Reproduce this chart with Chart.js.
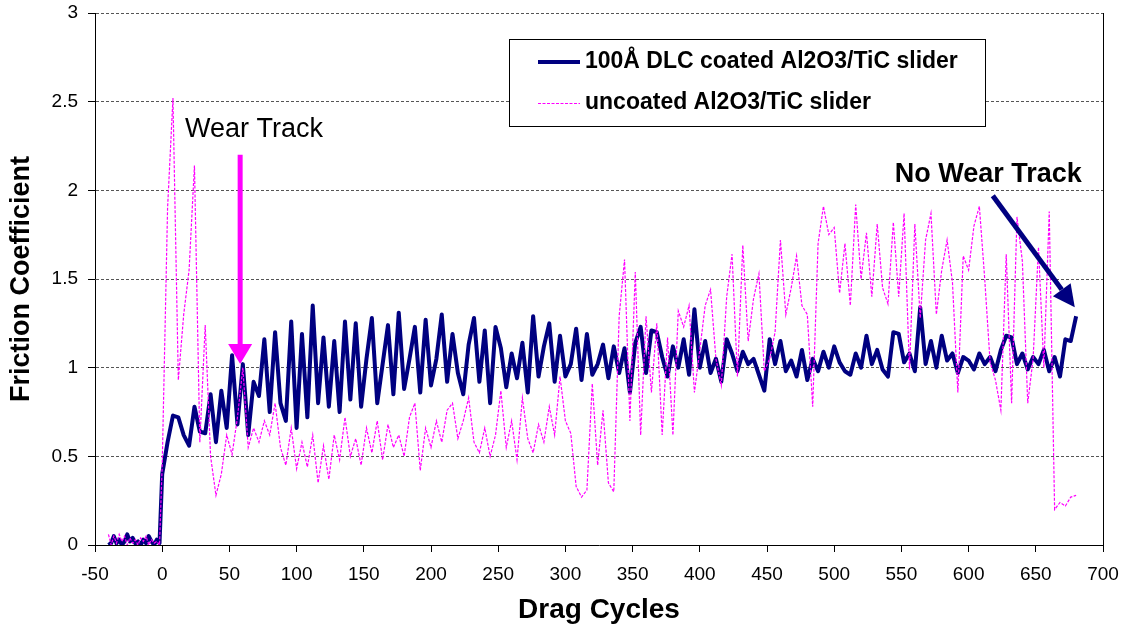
<!DOCTYPE html>
<html>
<head>
<meta charset="utf-8">
<script src="https://cdn.jsdelivr.net/npm/chart.js@4"></script>
<style>
  html, body { margin: 0; padding: 0; background: #fff; }
  #wrap { width: 1126px; height: 633px; }
</style>
</head>
<body>
<div id="wrap"><canvas id="c"></canvas></div>
<script>
const FONT = "'Liberation Sans', Arial, sans-serif";

// run-in before sliding starts (drag cycles -40 .. -2)
const preCycles = [-40, -38, -36, -34, -32, -30, -28, -26, -24, -22, -20, -18, -16, -14, -12, -10, -8, -6, -4, -2];
const preDlc = [0.00, 0.01, 0.05, 0.01, 0.03, 0.00, 0.02, 0.06, 0.02, 0.04, 0.01, 0.02, 0.00, 0.03, 0.01, 0.05, 0.02, 0.00, 0.03, 0.01];
const preUncoated = [0.06, 0.00, 0.05, 0.01, 0.06, 0.02, 0.05, 0.00, 0.04, 0.01, 0.03, 0.00, 0.04, 0.02, 0.05, 0.00, 0.03, 0.01, 0.02, 0.00];

// drag cycles 0 .. 680, every 4 cycles
const cycles = [
  0, 4, 8, 12, 16, 20, 24, 28, 32, 36,
  40, 44, 48, 52, 56, 60, 64, 68, 72, 76,
  80, 84, 88, 92, 96, 100, 104, 108, 112, 116,
  120, 124, 128, 132, 136, 140, 144, 148, 152, 156,
  160, 164, 168, 172, 176, 180, 184, 188, 192, 196,
  200, 204, 208, 212, 216, 220, 224, 228, 232, 236,
  240, 244, 248, 252, 256, 260, 264, 268, 272, 276,
  280, 284, 288, 292, 296, 300, 304, 308, 312, 316,
  320, 324, 328, 332, 336, 340, 344, 348, 352, 356,
  360, 364, 368, 372, 376, 380, 384, 388, 392, 396,
  400, 404, 408, 412, 416, 420, 424, 428, 432, 436,
  440, 444, 448, 452, 456, 460, 464, 468, 472, 476,
  480, 484, 488, 492, 496, 500, 504, 508, 512, 516,
  520, 524, 528, 532, 536, 540, 544, 548, 552, 556,
  560, 564, 568, 572, 576, 580, 584, 588, 592, 596,
  600, 604, 608, 612, 616, 620, 624, 628, 632, 636,
  640, 644, 648, 652, 656, 660, 664, 668, 672, 676,
  680
];

// 100Å DLC coated slider
const dlc = [
  0.40, 0.58, 0.73, 0.72, 0.62, 0.56, 0.78, 0.64, 0.63, 0.85,
  0.58, 0.87, 0.66, 1.07, 0.68, 1.02, 0.62, 0.92, 0.84, 1.16,
  0.75, 1.20, 0.80, 0.70, 1.26, 0.66, 1.19, 0.72, 1.35, 0.80,
  1.17, 0.78, 1.15, 0.75, 1.26, 0.82, 1.25, 0.78, 1.05, 1.28,
  0.80, 1.02, 1.24, 0.85, 1.31, 0.88, 1.05, 1.23, 0.86, 1.27,
  0.90, 1.05, 1.30, 0.92, 1.19, 0.97, 0.85, 1.13, 1.28, 0.92,
  1.21, 0.80, 1.23, 1.11, 0.89, 1.08, 0.94, 1.14, 0.86, 1.29,
  0.95, 1.12, 1.25, 0.92, 1.18, 0.95, 1.02, 1.22, 0.93, 1.19,
  0.96, 1.02, 1.13, 0.94, 1.12, 0.97, 1.11, 0.86, 1.14, 1.23,
  0.97, 1.21, 1.20, 1.06, 0.95, 1.12, 1.00, 1.16, 0.96, 1.33,
  1.00, 1.15, 0.97, 1.05, 0.92, 1.16, 1.08, 0.98, 1.09, 1.02,
  1.05, 0.96, 0.87, 1.16, 1.02, 1.15, 0.98, 1.04, 0.95, 1.10,
  0.93, 1.05, 0.98, 1.09, 1.00, 1.12, 1.03, 0.98, 0.96, 1.08,
  1.00, 1.18, 1.02, 1.10, 0.99, 0.95, 1.20, 1.19, 1.03, 1.08,
  0.98, 1.34, 1.02, 1.15, 1.00, 1.18, 1.04, 1.08, 0.97, 1.06,
  1.04, 0.99, 1.08, 1.02, 1.06, 0.98, 1.10, 1.18, 1.17, 1.02,
  1.08, 0.99, 1.06, 1.02, 1.10, 0.98, 1.06, 0.95, 1.16, 1.15,
  1.29
];

// uncoated slider
const uncoated = [
  0.45, 1.90, 2.52, 0.93, 1.30, 1.55, 2.14, 0.58, 1.24, 0.50,
  0.28, 0.40, 0.62, 0.51, 0.72, 1.00, 0.55, 0.66, 0.58, 0.70,
  0.62, 0.80, 0.55, 0.45, 0.66, 0.43, 0.58, 0.44, 0.62, 0.35,
  0.56, 0.37, 0.62, 0.48, 0.72, 0.50, 0.60, 0.45, 0.66, 0.52,
  0.70, 0.48, 0.68, 0.55, 0.62, 0.50, 0.72, 0.80, 0.42, 0.66,
  0.55, 0.70, 0.58, 0.76, 0.80, 0.60, 0.70, 0.83, 0.58, 0.52,
  0.66, 0.50, 0.62, 0.87, 0.55, 0.70, 0.48, 0.83, 0.60, 0.52,
  0.68, 0.58, 0.78, 0.62, 0.95, 0.70, 0.63, 0.33, 0.27, 0.31,
  0.91, 0.45, 0.76, 0.35, 0.30, 1.29, 1.61, 0.70, 1.54, 0.62,
  1.29, 0.86, 1.25, 0.62, 1.17, 0.62, 1.32, 1.23, 1.35, 0.86,
  1.10, 1.35, 1.44, 1.05, 0.90, 1.40, 1.64, 0.95, 1.69, 1.15,
  1.39, 1.53, 0.98, 1.05, 1.20, 1.72, 1.30, 1.45, 1.63, 1.35,
  1.30, 0.78, 1.70, 1.91, 1.75, 1.79, 1.42, 1.70, 1.35, 1.92,
  1.50, 1.76, 1.40, 1.81, 1.45, 1.36, 1.82, 1.40, 1.87, 0.99,
  1.81, 1.28, 1.72, 1.87, 1.30, 1.55, 1.72, 1.48, 0.86, 1.63,
  1.55, 1.80, 1.91, 1.50, 1.03, 0.93, 0.76, 1.64, 0.80, 1.85,
  1.60, 0.80, 1.05, 1.68, 1.00, 1.88, 0.20, 0.24, 0.22, 0.27,
  0.28
];

const seriesNames = ['100Å DLC coated Al2O3/TiC slider', 'uncoated Al2O3/TiC slider'];

// annotations, in data units [cycles, friction]
const wearLabel = [17, 2.34];
const wearArrow = [[58, 2.20], [58, 1.02]];
const noWearLabel = [545, 2.09];
const noWearArrow = [[618, 1.97], [679, 1.34]];

function points(xs, ys) {
  return xs.map((x, i) => ({ x: x, y: ys[i] }));
}

function drawArrow(ctx, x1, y1, x2, y2, color, width, headLen, headWidth) {
  const ang = Math.atan2(y2 - y1, x2 - x1);
  const bx = x2 - Math.cos(ang) * headLen;
  const by = y2 - Math.sin(ang) * headLen;
  ctx.strokeStyle = color;
  ctx.fillStyle = color;
  ctx.lineWidth = width;
  ctx.lineCap = 'butt';
  ctx.beginPath();
  ctx.moveTo(x1, y1);
  ctx.lineTo(bx, by);
  ctx.stroke();
  const px = -Math.sin(ang) * headWidth / 2;
  const py = Math.cos(ang) * headWidth / 2;
  ctx.beginPath();
  ctx.moveTo(x2, y2);
  ctx.lineTo(bx + px, by + py);
  ctx.lineTo(bx - px, by - py);
  ctx.closePath();
  ctx.fill();
}

const overlay = {
  id: 'overlay',
  afterDatasetsDraw(chart) {
    const { ctx, chartArea: a, scales: { x, y } } = chart;
    ctx.save();
    // right frame edge
    ctx.strokeStyle = '#000';
    ctx.lineWidth = 1;
    ctx.setLineDash([]);
    ctx.beginPath();
    ctx.moveTo(a.right + 0.5, a.top);
    ctx.lineTo(a.right + 0.5, a.bottom);
    ctx.stroke();

    drawArrow(ctx, x.getPixelForValue(wearArrow[0][0]), y.getPixelForValue(wearArrow[0][1]),
      x.getPixelForValue(wearArrow[1][0]), y.getPixelForValue(wearArrow[1][1]), '#FF00FF', 5, 20, 24);
    drawArrow(ctx, x.getPixelForValue(noWearArrow[0][0]), y.getPixelForValue(noWearArrow[0][1]),
      x.getPixelForValue(noWearArrow[1][0]), y.getPixelForValue(noWearArrow[1][1]), '#000080', 5, 22, 22);

    ctx.fillStyle = '#000';
    ctx.textBaseline = 'middle';
    ctx.textAlign = 'left';
    ctx.font = '27px ' + FONT;
    ctx.fillText('Wear Track', x.getPixelForValue(wearLabel[0]), y.getPixelForValue(wearLabel[1]));
    ctx.font = 'bold 27px ' + FONT;
    ctx.fillText('No Wear Track', x.getPixelForValue(noWearLabel[0]), y.getPixelForValue(noWearLabel[1]));

    // legend box
    ctx.fillStyle = '#fff';
    ctx.fillRect(509, 39, 476, 87);
    ctx.strokeStyle = '#000';
    ctx.lineWidth = 1;
    ctx.strokeRect(509.5, 39.5, 476, 87);
    ctx.strokeStyle = '#000080';
    ctx.lineWidth = 4;
    ctx.beginPath();
    ctx.moveTo(538, 62);
    ctx.lineTo(580, 62);
    ctx.stroke();
    ctx.strokeStyle = '#FF00FF';
    ctx.lineWidth = 1.2;
    ctx.setLineDash([3, 1.5]);
    ctx.beginPath();
    ctx.moveTo(538, 103.5);
    ctx.lineTo(580, 103.5);
    ctx.stroke();
    ctx.setLineDash([]);
    ctx.fillStyle = '#000';
    ctx.font = 'bold 23px ' + FONT;
    ctx.fillText(seriesNames[0], 585, 62);
    ctx.fillText(seriesNames[1], 585, 103);
    ctx.restore();
  }
};

const chart = new Chart(document.getElementById('c'), {
  type: 'line',
  data: {
    datasets: [
      {
        label: seriesNames[0],
        data: points(preCycles.concat(cycles), preDlc.concat(dlc)),
        borderColor: '#000080',
        borderWidth: 4,
        borderJoinStyle: 'round',
        pointRadius: 0,
        tension: 0,
        fill: false,
        order: 1
      },
      {
        label: seriesNames[1],
        data: points(preCycles.concat(cycles), preUncoated.concat(uncoated)),
        borderColor: '#FF00FF',
        borderWidth: 1.2,
        borderDash: [3, 1.5],
        pointRadius: 0,
        tension: 0,
        fill: false,
        order: 0
      }
    ]
  },
  options: {
    responsive: true,
    maintainAspectRatio: false,
    animation: false,
    events: [],
    layout: { padding: { top: 13, right: 23, left: 0, bottom: 0 } },
    plugins: {
      legend: { display: false },
      tooltip: { enabled: false }
    },
    scales: {
      x: {
        type: 'linear',
        min: -50,
        max: 700,
        ticks: { stepSize: 50, font: { family: FONT, size: 19 }, color: '#000', padding: 11, maxRotation: 0 },
        grid: { drawOnChartArea: false, tickLength: 7, color: '#000' },
        border: { color: '#000', width: 1 },
        title: { display: true, text: 'Drag Cycles', color: '#000', font: { family: FONT, size: 28, weight: 'bold' }, padding: { top: 0, bottom: 6 } },
        afterFit: (s) => { s.height = 88; s.paddingLeft = 0; s.paddingRight = 0; }
      },
      y: {
        min: 0,
        max: 3,
        ticks: { stepSize: 0.5, font: { family: FONT, size: 19 }, color: '#000', padding: 10, callback: (v) => String(v) },
        grid: { color: '#555', tickColor: '#000', tickLength: 7 },
        border: { color: '#000', width: 1, dash: [3, 2] },
        title: { display: true, text: 'Friction Coefficient', color: '#000', font: { family: FONT, size: 27, weight: 'bold' }, padding: { top: 5, bottom: 0 } },
        afterFit: (s) => { s.width = 95; s.paddingTop = 0; s.paddingBottom = 0; }
      }
    }
  },
  plugins: [overlay]
});
</script>
</body>
</html>
